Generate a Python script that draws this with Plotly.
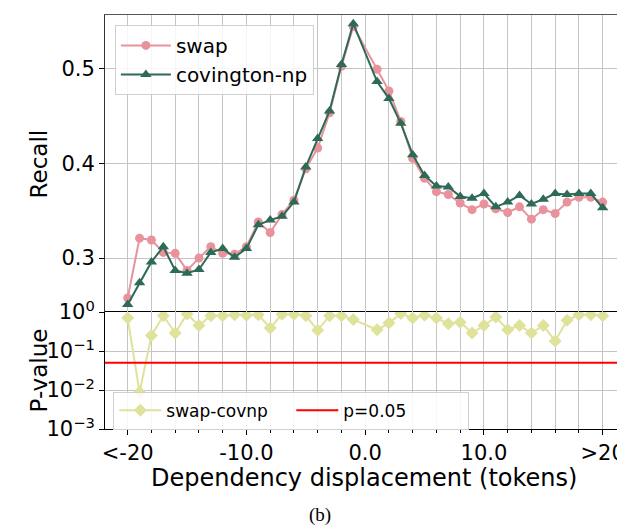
import plotly.graph_objects as go

# ---------------- data ----------------
displacement = [-20, -19, -18, -17, -16, -15, -14, -13, -12, -11, -10, -9, -8, -7, -6, -5, -4, -3, -2, -1,
                1, 2, 3, 4, 5, 6, 7, 8, 9, 10, 11, 12, 13, 14, 15, 16, 17, 18, 19, 20]

swap_recall = [0.258, 0.321, 0.319, 0.306, 0.305, 0.287, 0.300, 0.312, 0.305, 0.304, 0.312, 0.338, 0.327, 0.346,
               0.361, 0.394, 0.416, 0.453, 0.502, 0.544,
               0.499, 0.476, 0.444, 0.405, 0.384, 0.370, 0.367, 0.358, 0.351, 0.357, 0.352, 0.348, 0.354, 0.341,
               0.351, 0.347, 0.359, 0.364, 0.364, 0.359]

covnp_recall = [0.251, 0.274, 0.296, 0.312, 0.287, 0.284, 0.288, 0.306, 0.310, 0.301, 0.310, 0.335, 0.340, 0.344,
                0.359, 0.396, 0.426, 0.455, 0.504, 0.547,
                0.486, 0.468, 0.442, 0.409, 0.387, 0.376, 0.375, 0.365, 0.363, 0.368, 0.354, 0.359, 0.366, 0.357,
                0.362, 0.368, 0.367, 0.368, 0.368, 0.353]

p_values = [0.70, 0.0087, 0.25, 0.80, 0.29, 0.89, 0.45, 0.80, 0.80, 0.85, 0.82, 0.85, 0.39, 0.87, 0.87, 0.80,
            0.34, 0.80, 0.80, 0.64,
            0.35, 0.52, 0.91, 0.70, 0.82, 0.70, 0.50, 0.55, 0.29, 0.45, 0.74, 0.35, 0.45, 0.29, 0.45, 0.18,
            0.61, 0.85, 0.85, 0.80]

P_THRESHOLD = 0.05
X_RANGE = [-21.91, 21.88]

xtick_vals = [-20, -10, 0, 10, 20]
xtick_text = ["<-20", "-10.0", "0.0", "10.0", ">20"]
recall_ticks = [0.3, 0.4, 0.5]
recall_text = ["0.3", "0.4", "0.5"]
p_ticks = [1, 0.1, 0.01, 0.001]
p_text = ["10<sup>0</sup>", "10<sup>\u22121</sup>", "10<sup>\u22122</sup>", "10<sup>\u22123</sup>"]

# ---------------- styles ----------------
SWAP_C = "#e8939c"
COV_C = "#2e6b56"
PV_C = "#dfe29b"
GRID_C = "#c4c4c4"
FONT = "DejaVu Sans"

fig = go.Figure()

fig.add_trace(go.Scatter(x=displacement, y=swap_recall, name="swap", mode="lines+markers",
                         line=dict(color=SWAP_C, width=2),
                         marker=dict(symbol="circle", size=9, color=SWAP_C),
                         xaxis="x2", yaxis="y2", legend="legend"))
fig.add_trace(go.Scatter(x=displacement, y=covnp_recall, name="covington-np", mode="lines+markers",
                         line=dict(color=COV_C, width=2),
                         marker=dict(symbol="triangle-up", size=10, color=COV_C),
                         xaxis="x2", yaxis="y2", legend="legend"))

fig.add_trace(go.Scatter(x=displacement, y=p_values, name="swap-covnp", mode="lines+markers",
                         line=dict(color=PV_C, width=2),
                         marker=dict(symbol="diamond", size=10, color=PV_C),
                         xaxis="x", yaxis="y", legend="legend2"))
fig.add_trace(go.Scatter(x=X_RANGE, y=[P_THRESHOLD, P_THRESHOLD], name="p=0.05", mode="lines",
                         line=dict(color="#ff0000", width=2),
                         xaxis="x", yaxis="y", legend="legend2"))

SPLIT = 0.2826

# The page body adds an 8px offset, so the figure is 8px smaller with margins shifted.
fig.update_layout(
    width=617, height=519,
    margin=dict(l=97, r=0, t=7, b=98, autoexpand=False),
    paper_bgcolor="white", plot_bgcolor="white",
    font=dict(family=FONT, color="black"),
    showlegend=True,
    xaxis=dict(
        domain=[0, 1], range=X_RANGE, anchor="y", automargin=False,
        tickmode="array", tickvals=xtick_vals, ticktext=xtick_text,
        tickfont=dict(size=21, family=FONT), ticks="outside", ticklen=5, tickcolor="black",
        showgrid=True, gridcolor=GRID_C, gridwidth=1,
        minor=dict(tickmode="linear", tick0=0, dtick=2, ticks="outside", ticklen=3,
                   tickcolor="black", showgrid=True, gridcolor=GRID_C, gridwidth=1),
        showline=True, linecolor="black", linewidth=1, mirror=True,
        zeroline=False,
    ),
    yaxis=dict(
        domain=[0, SPLIT], type="log", range=[-3, 0], anchor="x", automargin=False,
        tickmode="array", tickvals=p_ticks, ticktext=p_text,
        tickfont=dict(size=21, family=FONT), ticks="outside", ticklen=5, tickcolor="black",
        showgrid=True, gridcolor=GRID_C, gridwidth=1,
        showline=True, linecolor="black", linewidth=1,
        zeroline=False,
    ),
    xaxis2=dict(
        domain=[0, 1], range=X_RANGE, anchor="y2", side="top", automargin=False,
        tickmode="linear", tick0=0, dtick=2, showticklabels=False, ticks="",
        showgrid=True, gridcolor=GRID_C, gridwidth=1,
        showline=True, linecolor="#555555", linewidth=1,
        zeroline=False,
    ),
    yaxis2=dict(
        domain=[SPLIT, 1], range=[0.2432, 0.5561], anchor="x2", automargin=False,
        tickmode="array", tickvals=recall_ticks, ticktext=recall_text,
        tickfont=dict(size=21, family=FONT), ticks="outside", ticklen=5, tickcolor="black",
        showgrid=True, gridcolor=GRID_C, gridwidth=1,
        showline=True, linecolor="#333333", linewidth=1,
        zeroline=False,
    ),
    legend=dict(
        x=0.019, y=0.976, xanchor="left", yanchor="top",
        bgcolor="rgba(255,255,255,0.85)", bordercolor="#d0d0d0", borderwidth=1,
        font=dict(size=20, family=FONT), tracegroupgap=0, itemwidth=50,
    ),
    legend2=dict(
        x=0.016, y=0.090, xanchor="left", yanchor="top", orientation="h",
        entrywidth=120, entrywidthmode="pixels", itemwidth=42,
        bgcolor="rgba(255,255,255,0.85)", bordercolor="#d0d0d0", borderwidth=1,
        font=dict(size=17, family=FONT),
    ),
    annotations=[
        dict(text="Recall", textangle=-90, x=-0.127, y=(1 + SPLIT) / 2, xref="paper", yref="paper",
             xanchor="center", yanchor="middle", showarrow=False, font=dict(size=23, family=FONT)),
        dict(text="P-value", textangle=-90, x=-0.127, y=SPLIT / 2, xref="paper", yref="paper",
             xanchor="center", yanchor="middle", showarrow=False, font=dict(size=23, family=FONT)),
        dict(text="Dependency displacement (tokens)", x=0.499, y=-0.118, xref="paper", yref="paper",
             xanchor="center", yanchor="middle", showarrow=False, font=dict(size=24, family=FONT)),
        dict(text="(b)", x=0.413, y=-0.207, xref="paper", yref="paper",
             xanchor="center", yanchor="middle", showarrow=False,
             font=dict(size=19, family="Liberation Serif")),
    ],
)

fig.write_html("out.html")
